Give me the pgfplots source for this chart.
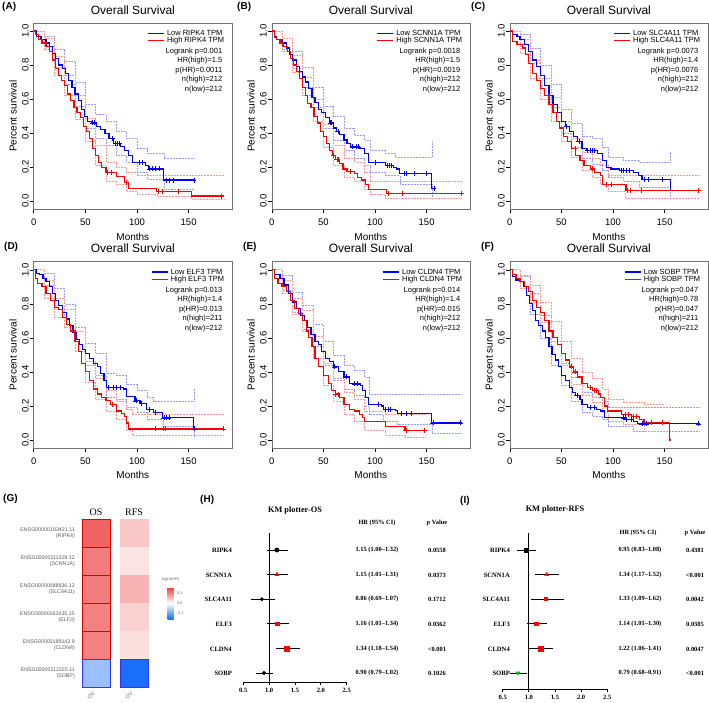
\documentclass[border=0pt]{standalone}
\usepackage{pgfplots}
\pgfplotsset{compat=1.18}
\usepackage{fontspec}
\setmainfont{Liberation Sans}
\newfontfamily\timesf{Liberation Serif}
\usetikzlibrary{calc}
\definecolor{kmblue}{RGB}{0,0,255}
\definecolor{kmred}{RGB}{255,0,0}
\pgfplotsset{
 km/.style={scale only axis, width=198.3pt, height=186.3pt, xmin=0, xmax=192, ymin=-0.047, ymax=1.047,
  xtick={0,50,100,150}, ytick={0,0.2,0.4,0.6,0.8,1.0},
  tick align=outside, tick pos=left, major tick length=4pt,
  axis line style={black!55}, tick style={black, line width=0.4pt},
  /pgf/number format/assume math mode=true,
  ticklabel style={font=\fontsize{9.5}{9.5}\selectfont},
  yticklabel style={rotate=90, anchor=base, yshift=1pt, /pgf/number format/fixed, /pgf/number format/fixed zerofill, /pgf/number format/precision=1},
  xticklabel style={anchor=base, yshift=-12.4pt},
  title={Overall Survival}, title style={font=\fontsize{12}{12}\selectfont, at={(axis description cs:0.5,1.016)}, anchor=base, yshift=0pt},
  xlabel={Months}, xlabel style={font=\fontsize{10}{10}\selectfont, at={(axis description cs:0.5,-0.165)}, anchor=base},
  ylabel={Percent survival}, ylabel style={font=\fontsize{10}{10}\selectfont, at={(axis description cs:-0.0857,0.5)}, anchor=base},
 },
 mb/.style={const plot, kmblue, line width=1.2pt, no marks},
 mr/.style={const plot, kmred, line width=1.2pt, no marks},
 cb/.style={const plot, kmblue!40, densely dotted, line width=0.5pt, no marks},
 cr/.style={const plot, kmred!40, densely dotted, line width=0.5pt, no marks},
 xb/.style={only marks, mark=+, mark size=2.5pt, kmblue, line width=0.5pt},
 xr/.style={only marks, mark=+, mark size=2.5pt, kmred, line width=0.5pt},
 forest/.style={scale only axis, xmin=0.5, xmax=2.5, axis x line*=bottom, axis y line=none, ytick=\empty,
  xtick={0.5,1,1.5,2,2.5}, tick align=outside, major tick length=3pt,
  axis line style={line width=0.9pt}, tick style={line width=0.9pt, black}, clip=false,
  /pgf/number format/assume math mode=true,
  xticklabel style={font=\timesf\bfseries\fontsize{6.5}{6.5}\selectfont, /pgf/number format/fixed, /pgf/number format/fixed zerofill, /pgf/number format/precision=1}},
 fp/.style={only marks, error bars/x dir=both, error bars/x explicit, error bars/error bar style={black, line width=0.7pt}, error bars/error mark options={black, mark size=2.5pt, line width=0.7pt}},
}
\newcommand{\kmleg}[7]{%
\begin{scope}[shift={(#1.north east)}, font=\fontsize{7.5}{8}\selectfont, inner sep=0pt]
\node[anchor=mid east] (hh) at (-7.7pt,-17pt) {High #2 TPM};
\coordinate (lowy) at (0pt,-10.3pt);
\node[anchor=mid west] (ll) at (hh.west |- lowy) {Low #2 TPM};
\draw[draw=kmblue, line width=1.2pt] ($(ll.west)+(-3pt,0pt)$) -- ++(-16pt,0pt);
\draw[draw=kmred, line width=1.2pt] ($(hh.west)+(-3pt,0pt)$) -- ++(-16pt,0pt);
\node[anchor=mid east] at (-9.6pt,-27.7pt) {Logrank p=#3};
\node[anchor=mid east] at (-9.6pt,-37pt) {HR(high)=#4};
\node[anchor=mid east] at (-9.6pt,-47pt) {p(HR)=#5};
\node[anchor=mid east] at (-9.6pt,-56.3pt) {n(high)=#6};
\node[anchor=mid east] at (-9.6pt,-66pt) {n(low)=#7};
\end{scope}}
\newcommand{\plab}[3]{\node[font=\bfseries\fontsize{10}{10}\selectfont, anchor=mid west, inner sep=0pt] at (#1pt,#2pt) {#3};}
\newcommand{\ftxt}[3]{\node[font=\timesf\bfseries\fontsize{6.4}{6.4}\selectfont, inner sep=0pt] at (#1pt,#2pt) {#3};}
\newcommand{\flab}[3]{\node[font=\timesf\bfseries\fontsize{6.6}{6.6}\selectfont, inner sep=0pt, anchor=mid east] at (#1pt,#2pt) {#3};}
\begin{document}
\begin{tikzpicture}
\path[use as bounding box] (0pt,0pt) rectangle (709pt,702pt);
% ---------------- A
\begin{axis}[km, name=A, at={(33.7pt,492.7pt)}, anchor=south west]
\addplot[cb] coordinates {(0,1) (10,0.97) (20,0.89) (30,0.82) (40,0.70) (50,0.57) (60,0.51) (70,0.47) (80,0.41) (90,0.37) (100,0.31) (110,0.28) (126,0.25) (155.5,0.25)};
\addplot[cb] coordinates {(0,1) (10,0.91) (20,0.79) (30,0.69) (40,0.56) (50,0.43) (60,0.37) (70,0.33) (80,0.27) (90,0.23) (100,0.17) (110,0.13) (126,0.07) (155.5,0.07)};
\addplot[cr] coordinates {(0,1) (10,0.96) (20,0.85) (30,0.74) (40,0.62) (50,0.49) (60,0.33) (70,0.23) (80,0.20) (90,0.17) (100,0.15) (184,0.15)};
\addplot[cr] coordinates {(0,1) (10,0.89) (20,0.74) (30,0.62) (40,0.48) (50,0.35) (60,0.21) (70,0.12) (80,0.10) (90,0.06) (100,0.04) (120,0.03) (153,0.01) (184,0.01)};
\addplot[mb] coordinates {(0,1) (3,0.97) (7,0.95) (12,0.93) (15,0.91) (18,0.87) (21,0.84) (24,0.80) (28,0.78) (31,0.75) (34,0.71) (37,0.67) (40,0.63) (43,0.59) (46,0.54) (49,0.50) (52,0.47) (56,0.46) (61,0.44) (65,0.42) (69,0.40) (73,0.37) (77,0.34) (84,0.32) (88,0.30) (92,0.27) (96,0.23) (108,0.21) (111,0.19) (126,0.125) (155.5,0.125)};
\addplot[mr] coordinates {(0,1) (2,0.98) (5,0.95) (8,0.93) (12,0.91) (15,0.88) (18,0.83) (21,0.78) (24,0.74) (27,0.71) (30,0.68) (33,0.63) (36,0.59) (39,0.55) (42,0.52) (45,0.49) (48,0.44) (51,0.41) (54,0.37) (57,0.31) (60,0.27) (63,0.23) (66,0.20) (70,0.17) (80,0.145) (88,0.11) (92,0.076) (119,0.057) (153,0.031) (184,0.031)};
\addplot[xb] coordinates {(57,0.46) (59,0.46) (76,0.37) (79,0.34) (81,0.34) (83,0.34) (102,0.23) (105,0.23) (112,0.19) (115,0.19) (118,0.19) (122,0.19) (128,0.125) (131,0.125) (135,0.125) (155,0.125)};
\addplot[xr] coordinates {(71,0.17) (75,0.17) (90,0.11) (121,0.057) (124,0.057) (140,0.057) (182,0.031)};
\end{axis}
\kmleg{A}{RIPK4}{0.001}{1.5}{0.0011}{212}{212}
% ---------------- B
\begin{axis}[km, name=B, at={(271.7pt,492.7pt)}, anchor=south west]
\addplot[cb] coordinates {(0,1) (10,0.96) (20,0.88) (30,0.79) (40,0.67) (50,0.56) (60,0.50) (70,0.43) (80,0.39) (90,0.36) (95,0.30) (110,0.28) (120,0.26) (155,0.35) (156,0.35)};
\addplot[cb] coordinates {(0,1) (10,0.89) (20,0.78) (30,0.67) (40,0.55) (50,0.43) (60,0.36) (70,0.30) (80,0.25) (90,0.21) (95,0.17) (110,0.15) (124,0.10) (155,0.02) (157.5,0.02)};
\addplot[cr] coordinates {(0,1) (10,0.96) (20,0.86) (30,0.73) (40,0.60) (50,0.45) (60,0.33) (70,0.25) (80,0.23) (90,0.17) (95,0.12) (110,0.115) (184,0.115)};
\addplot[cr] coordinates {(0,1) (10,0.88) (20,0.76) (30,0.62) (40,0.47) (50,0.32) (60,0.21) (70,0.14) (80,0.12) (90,0.07) (95,0.04) (110,0.02) (184,0.02)};
\addplot[mb] coordinates {(0,1) (3,0.97) (5,0.95) (10,0.93) (14,0.90) (17,0.86) (20,0.83) (24,0.79) (27,0.76) (30,0.73) (33,0.70) (36,0.66) (39,0.61) (42,0.58) (45,0.54) (48,0.52) (52,0.49) (56,0.46) (60,0.43) (63,0.41) (66,0.39) (70,0.36) (73,0.34) (76,0.32) (85,0.31) (90,0.28) (94,0.23) (110,0.21) (118,0.20) (121,0.19) (124,0.165) (155,0.076) (157.5,0.076)};
\addplot[mr] coordinates {(0,1) (3,0.96) (5,0.95) (8,0.93) (11,0.91) (15,0.88) (18,0.84) (21,0.80) (24,0.76) (27,0.72) (30,0.67) (33,0.62) (35,0.575) (38,0.55) (41,0.50) (44,0.46) (47,0.41) (50,0.38) (53,0.34) (56,0.30) (59,0.27) (62,0.245) (66,0.22) (69,0.19) (73,0.175) (80,0.165) (83,0.14) (87,0.125) (91,0.10) (94,0.068) (111,0.047) (184,0.047)};
\addplot[xb] coordinates {(57,0.46) (58,0.46) (64,0.41) (78,0.32) (82,0.32) (84,0.32) (100,0.23) (112,0.21) (114,0.21) (116,0.21) (128,0.165) (130,0.165) (138,0.165) (150,0.165) (157,0.076)};
\addplot[xr] coordinates {(60,0.27) (63,0.245) (64,0.245) (76,0.175) (113,0.047) (126,0.047) (184,0.047)};
\end{axis}
\kmleg{B}{SCNN1A}{0.0018}{1.5}{0.0019}{212}{212}
% ---------------- C
\begin{axis}[km, name=C, at={(509.7pt,492.7pt)}, anchor=south west]
\addplot[cb] coordinates {(0,1) (10,0.98) (20,0.90) (30,0.80) (40,0.69) (50,0.54) (60,0.46) (70,0.38) (80,0.37) (90,0.32) (95,0.26) (110,0.24) (125,0.23) (155,0.29) (156,0.29)};
\addplot[cb] coordinates {(0,1) (10,0.92) (20,0.81) (30,0.68) (40,0.55) (50,0.40) (60,0.32) (70,0.25) (80,0.22) (90,0.18) (95,0.14) (110,0.12) (125,0.08) (155,0.02) (156,0.02)};
\addplot[cr] coordinates {(0,1) (10,0.95) (20,0.83) (30,0.72) (40,0.61) (50,0.47) (60,0.37) (70,0.29) (80,0.25) (88,0.21) (95,0.15) (184,0.15)};
\addplot[cr] coordinates {(0,1) (10,0.87) (20,0.72) (30,0.60) (40,0.47) (50,0.35) (60,0.26) (70,0.18) (80,0.14) (88,0.10) (95,0.06) (112,0.02) (184,0.02)};
\addplot[mb] coordinates {(0,1) (3,0.98) (7,0.97) (10,0.95) (14,0.92) (18,0.88) (22,0.83) (26,0.79) (30,0.74) (34,0.68) (38,0.62) (42,0.57) (46,0.52) (50,0.47) (54,0.44) (58,0.41) (62,0.38) (66,0.35) (70,0.31) (74,0.30) (85,0.28) (90,0.24) (94,0.20) (98,0.19) (106,0.18) (120,0.17) (125,0.15) (128,0.13) (155.5,0.065) (156,0.065)};
\addplot[mr] coordinates {(0,1) (3,0.94) (7,0.92) (12,0.90) (15,0.86) (18,0.81) (22,0.75) (26,0.71) (30,0.66) (34,0.62) (38,0.57) (42,0.52) (45,0.47) (48,0.43) (52,0.38) (56,0.35) (60,0.31) (64,0.27) (68,0.24) (72,0.21) (78,0.19) (82,0.17) (88,0.15) (90,0.10) (112.6,0.065) (184,0.065)};
\addplot[xb] coordinates {(55,0.44) (67,0.35) (75,0.30) (78,0.30) (80,0.30) (82,0.30) (108,0.18) (110,0.18) (113,0.18) (116,0.18) (130,0.13) (134,0.13) (148,0.13)};
\addplot[xr] coordinates {(63,0.31) (80,0.19) (93,0.10) (98,0.10) (114,0.065) (117,0.065) (127,0.065) (183,0.065)};
\end{axis}
\kmleg{C}{SLC4A11}{0.0073}{1.4}{0.0076}{212}{212}
% ---------------- D
\begin{axis}[km, name=D, at={(33.7pt,254pt)}, anchor=south west]
\addplot[cb] coordinates {(0,1) (10,0.98) (20,0.89) (30,0.80) (40,0.66) (50,0.57) (60,0.51) (70,0.39) (80,0.38) (90,0.33) (100,0.29) (110,0.25) (116,0.23) (155,0.30) (156,0.30)};
\addplot[cb] coordinates {(0,1) (10,0.91) (20,0.79) (30,0.66) (40,0.52) (50,0.44) (60,0.38) (70,0.25) (80,0.24) (90,0.19) (100,0.16) (110,0.12) (125,0.08) (155,0.02) (156,0.02)};
\addplot[cr] coordinates {(0,1) (10,0.94) (20,0.83) (30,0.77) (40,0.64) (50,0.46) (60,0.36) (70,0.29) (80,0.23) (90,0.18) (95,0.15) (184,0.15)};
\addplot[cr] coordinates {(0,1) (10,0.83) (20,0.72) (30,0.66) (40,0.52) (50,0.34) (60,0.24) (70,0.17) (80,0.12) (90,0.06) (95,0.03) (184,0.03)};
\addplot[mb] coordinates {(0,1) (3,0.98) (6,0.97) (9,0.95) (12,0.93) (15,0.90) (18,0.86) (21,0.82) (24,0.79) (28,0.75) (32,0.71) (35,0.67) (38,0.63) (41,0.59) (44,0.56) (47,0.53) (50,0.51) (54,0.48) (58,0.45) (62,0.43) (65,0.39) (68,0.35) (70.6,0.31) (87,0.30) (90,0.255) (98,0.23) (103,0.216) (109,0.18) (116,0.16) (125,0.13) (155,0.065) (156,0.065)};
\addplot[mr] coordinates {(0,1) (2,0.95) (4,0.92) (8,0.90) (12,0.86) (16,0.82) (20,0.78) (24,0.765) (28,0.72) (32,0.68) (36,0.64) (40,0.58) (43,0.52) (46,0.45) (50,0.40) (54,0.35) (58,0.30) (62,0.27) (66,0.25) (70,0.23) (74,0.207) (80,0.17) (85,0.155) (88,0.14) (90,0.10) (92,0.065) (184,0.065)};
\addplot[xb] coordinates {(72,0.31) (77,0.31) (80,0.31) (84,0.31) (99,0.23) (104,0.216) (112,0.18) (118,0.16) (126,0.13) (128,0.13) (131,0.13) (155.5,0.065)};
\addplot[xr] coordinates {(76,0.207) (118,0.065) (125,0.065) (127,0.065) (184,0.065)};
\end{axis}
\kmleg{D}{ELF3}{0.013}{1.4}{0.013}{211}{212}
% ---------------- E
\begin{axis}[km, name=E, at={(271.7pt,254pt)}, anchor=south west]
\addplot[cb] coordinates {(0,1) (10,0.97) (20,0.87) (30,0.79) (40,0.68) (50,0.58) (60,0.50) (70,0.44) (80,0.41) (90,0.37) (94,0.27) (184,0.27)};
\addplot[cb] coordinates {(0,1) (10,0.88) (20,0.75) (30,0.65) (40,0.55) (50,0.44) (60,0.36) (70,0.30) (80,0.26) (90,0.20) (94,0.15) (108,0.11) (122,0.09) (155,0.04) (184,0.04)};
\addplot[cr] coordinates {(0,1) (10,0.94) (20,0.83) (30,0.76) (40,0.61) (50,0.45) (60,0.35) (70,0.28) (80,0.24) (90,0.17) (110,0.15) (149,0.15)};
\addplot[cr] coordinates {(0,1) (10,0.86) (20,0.74) (30,0.64) (40,0.48) (50,0.32) (60,0.23) (70,0.15) (80,0.11) (90,0.06) (110,0.03) (129,0.015) (149,0.015)};
\addplot[mb] coordinates {(0,1) (3,0.97) (8,0.95) (12,0.91) (16,0.86) (20,0.81) (24,0.77) (28,0.73) (32,0.70) (35,0.66) (38,0.62) (42,0.58) (45,0.56) (48,0.52) (52,0.48) (56,0.46) (60,0.43) (65,0.40) (70,0.37) (75,0.33) (86,0.32) (88,0.29) (91,0.25) (94,0.21) (106,0.20) (108,0.18) (120,0.175) (122,0.155) (155,0.10) (184,0.10)};
\addplot[mr] coordinates {(0,1) (3,0.95) (6,0.92) (10,0.90) (14,0.87) (18,0.82) (22,0.77) (26,0.745) (30,0.70) (34,0.64) (36,0.60) (39,0.55) (42,0.48) (45,0.43) (50,0.38) (55,0.33) (58,0.29) (62,0.27) (66,0.25) (70,0.21) (75,0.18) (80,0.17) (85,0.15) (88,0.13) (90,0.108) (110,0.08) (129,0.057) (149,0.057)};
\addplot[xb] coordinates {(61,0.43) (72,0.37) (80,0.33) (83,0.33) (103,0.21) (110,0.18) (113,0.18) (115,0.18) (125,0.155) (130,0.155) (135,0.155) (156,0.10) (183,0.10)};
\addplot[xr] coordinates {(62,0.27) (64,0.27) (130,0.057) (148,0.057)};
\end{axis}
\kmleg{E}{CLDN4}{0.014}{1.4}{0.015}{212}{212}
% ---------------- F
\begin{axis}[km, name=F, at={(509.7pt,254pt)}, anchor=south west]
\addplot[cb] coordinates {(0,1) (10,0.96) (20,0.86) (30,0.73) (40,0.58) (50,0.45) (60,0.37) (70,0.28) (80,0.25) (90,0.23) (95,0.19) (184,0.19)};
\addplot[cb] coordinates {(0,1) (10,0.89) (20,0.74) (30,0.60) (40,0.44) (50,0.32) (60,0.23) (70,0.16) (80,0.14) (90,0.12) (95,0.08) (120,0.05) (184,0.05)};
\addplot[cr] coordinates {(0,1) (10,0.97) (20,0.91) (30,0.81) (40,0.70) (50,0.58) (60,0.48) (70,0.40) (80,0.36) (90,0.30) (95,0.24) (110,0.22) (130,0.21) (150,0.21)};
\addplot[cr] coordinates {(0,1) (10,0.89) (20,0.81) (30,0.69) (40,0.58) (50,0.44) (60,0.33) (70,0.26) (80,0.22) (90,0.16) (95,0.11) (110,0.09) (130,0.05) (155,0.05)};
\addplot[mb] coordinates {(0,1) (3,0.96) (6,0.94) (10,0.93) (13,0.90) (16,0.85) (19,0.80) (22,0.76) (25,0.70) (28,0.67) (32,0.64) (35,0.60) (38,0.55) (41,0.50) (44,0.47) (47,0.43) (50,0.38) (54,0.35) (58,0.31) (61,0.28) (64,0.26) (68,0.24) (70,0.21) (75,0.19) (84,0.18) (88,0.17) (92,0.13) (112,0.12) (120,0.11) (124,0.095) (184,0.095)};
\addplot[mr] coordinates {(0,1) (3,0.97) (6,0.95) (10,0.93) (14,0.90) (18,0.87) (22,0.82) (26,0.78) (30,0.75) (34,0.70) (38,0.64) (42,0.60) (46,0.56) (50,0.51) (54,0.47) (58,0.43) (62,0.40) (66,0.37) (70,0.33) (75,0.31) (80,0.29) (86,0.27) (88,0.25) (92,0.20) (95,0.17) (105,0.17) (108,0.15) (118,0.14) (126,0.12) (130,0.105) (155,0) (155.5,0)};
\addplot[xb] coordinates {(65,0.26) (78,0.19) (82,0.19) (110,0.13) (113,0.12) (118,0.12) (128,0.095) (132,0.095) (183,0.095)};
\addplot[xr] coordinates {(60,0.43) (63,0.40) (78,0.31) (82,0.29) (84,0.29) (112,0.15) (115,0.15) (120,0.14) (123,0.14) (137,0.105) (148,0.105)};
\end{axis}
\kmleg{F}{SOBP}{0.047}{0.78}{0.047}{211}{212}
% panel labels
\plab{2}{695}{(A)} \plab{237}{695}{(B)} \plab{471}{695}{(C)}
\plab{4}{455}{(D)} \plab{243}{455}{(E)} \plab{481}{455}{(F)}
\plab{3}{203}{(G)} \plab{200}{202}{(H)} \plab{460}{201}{(I)}
% ---------------- G heatmap
\begin{axis}[name=G, at={(77pt,15pt)}, anchor=south west, scale only axis, width=76pt, height=168pt,
 xmin=-0.5, xmax=1.5, ymin=0.5, ymax=6.5, hide axis, clip=false,
 colormap={hm}{rgb255=(25,110,250) rgb255=(255,255,255) rgb255=(235,55,55)},
 point meta min=-0.16, point meta max=0.16,
 colorbar,
 colorbar style={at={(parent axis.east)}, anchor=west, xshift=6pt, width=6pt, height=32pt,
   ytick={-0.1,0,0.1}, yticklabels={-0.1,0.0,0.1}, yticklabel style={font=\fontsize{3.8}{3.8}\selectfont, text=black!60},
   major tick length=0pt, axis line style={draw=none},
   title={log10(HR)}, title style={font=\fontsize{3.8}{3.8}\selectfont, text=black!60, yshift=-4pt}},
]
\addplot[scatter, only marks, mark=square*, mark size=14pt, point meta=explicit, line width=0.7pt,
 scatter/use mapped color={draw=red!85!black, fill=mapped color}] coordinates {(0,6) [0.125] (0,5) [0.105] (0,4) [0.105] (0,3) [0.10] (0,2) [0.10]};
\addplot[scatter, only marks, mark=square*, mark size=14pt, point meta=explicit, line width=0.7pt,
 scatter/use mapped color={draw=blue!80, fill=mapped color}] coordinates {(0,1) [-0.07]};
\addplot[scatter, only marks, mark=square*, mark size=14pt, point meta=explicit, line width=0.3pt,
 scatter/use mapped color={draw=mapped color, fill=mapped color}] coordinates {(1,6) [0.045] (1,5) [0.022] (1,4) [0.06] (1,3) [0.037] (1,2) [0.025]};
\addplot[scatter, only marks, mark=square*, mark size=14pt, point meta=explicit, line width=0.7pt,
 scatter/use mapped color={draw=blue!80, fill=mapped color}] coordinates {(1,1) [-0.16]};
\node[font=\timesf\fontsize{10}{10}\selectfont, anchor=base] at ([yshift=3.5pt]axis cs:0,6.5) {OS};
\node[font=\timesf\fontsize{10}{10}\selectfont, anchor=base] at ([yshift=3.5pt]axis cs:1,6.5) {RFS};
\node[rotate=45, font=\fontsize{5.3}{5.3}\selectfont, text=black!60, inner sep=0pt] at ([xshift=-5pt,yshift=-8.5pt]axis cs:0,0.5) {OV};
\node[rotate=45, font=\fontsize{5.3}{5.3}\selectfont, text=black!60, inner sep=0pt] at ([xshift=-5pt,yshift=-8.5pt]axis cs:1,0.5) {OV};
\begin{scope}[every node/.style={anchor=east, align=right, font=\fontsize{5.3}{6.5}\selectfont, text=black!65, inner sep=0pt}]
\node at ([xshift=-2pt]axis cs:-0.5,6) {ENSG00000183421.11\\(RIPK4)};
\node at ([xshift=-2pt]axis cs:-0.5,5) {ENSG00000111319.12\\(SCNN1A)};
\node at ([xshift=-2pt]axis cs:-0.5,4) {ENSG00000088836.12\\(SLC4A11)};
\node at ([xshift=-2pt]axis cs:-0.5,3) {ENSG00000163435.15\\(ELF3)};
\node at ([xshift=-2pt]axis cs:-0.5,2) {ENSG00000189143.9\\(CLDN4)};
\node at ([xshift=-2pt]axis cs:-0.5,1) {ENSG00000112320.11\\(SOBP)};
\end{scope}
\end{axis}
% ---------------- H forest OS
\begin{axis}[forest, at={(243.3pt,20pt)}, anchor=south west, width=103.4pt, height=149pt, ymin=0.634, ymax=6.69]
\addplot[draw=black, line width=0.9pt, mark=none] coordinates {(1,0.634) (1,6.69)};
\addplot[fp, mark=*, mark size=2.2pt, black] coordinates {(1.15,6) += (0.17,0) -= (0.15,0)};
\addplot[fp, mark=triangle*, mark size=2.4pt, red] coordinates {(1.15,5) += (0.16,0) -= (0.14,0)};
\addplot[fp, mark=*, mark size=1.7pt, black] coordinates {(0.86,4) += (0.21,0) -= (0.17,0)};
\addplot[fp, mark=square*, mark size=1.9pt, red] coordinates {(1.16,3) += (0.18,0) -= (0.15,0)};
\addplot[fp, mark=square*, mark size=2.6pt, red] coordinates {(1.34,2) += (0.20,0) -= (0.16,0)};
\addplot[fp, mark=*, mark size=1.9pt, black] coordinates {(0.90,1) += (0.12,0) -= (0.11,0)};
\end{axis}
\node[font=\timesf\bfseries\fontsize{8.3}{8.3}\selectfont] at (295pt,191pt) {KM plotter-OS};
\ftxt{377}{179}{HR (95\% CI)} \ftxt{437}{179}{p Value}
\flab{232}{152}{RIPK4} \flab{232}{127}{SCNN1A} \flab{232}{103}{SLC4A11} \flab{232}{78}{ELF3} \flab{232}{53}{CLDN4} \flab{232}{29}{SOBP}
\ftxt{377}{152}{1.15 (1.00–1.32)} \ftxt{437}{152}{0.0558}
\ftxt{377}{127}{1.15 (1.01–1.31)} \ftxt{437}{127}{0.0373}
\ftxt{377}{103}{0.86 (0.69–1.07)} \ftxt{437}{103}{0.1712}
\ftxt{377}{78}{1.16 (1.01–1.34)} \ftxt{437}{78}{0.0362}
\ftxt{377}{53}{1.34 (1.18–1.54)} \ftxt{437}{53}{<0.001}
\ftxt{377}{29}{0.90 (0.79–1.02)} \ftxt{437}{29}{0.1026}
% ---------------- I forest RFS
\begin{axis}[forest, at={(502.7pt,13pt)}, anchor=south west, width=104.6pt, height=156pt, ymin=0.35, ymax=6.69]
\addplot[draw=black, line width=0.9pt, mark=none] coordinates {(1,0.35) (1,6.69)};
\addplot[fp, mark=square*, mark size=2pt, black] coordinates {(0.95,6) += (0.13,0) -= (0.12,0)};
\addplot[fp, mark=triangle*, mark size=2.2pt, red] coordinates {(1.34,5) += (0.18,0) -= (0.17,0)};
\addplot[fp, mark=square*, mark size=1.5pt, red] coordinates {(1.33,4) += (0.29,0) -= (0.24,0)};
\addplot[fp, mark=square*, mark size=1.6pt, red] coordinates {(1.14,3) += (0.16,0) -= (0.13,0)};
\addplot[fp, mark=square*, mark size=2.4pt, red] coordinates {(1.22,2) += (0.19,0) -= (0.16,0)};
\addplot[fp, mark=triangle*, mark options={rotate=180}, mark size=2.2pt, green!80!black] coordinates {(0.79,1) += (0.12,0) -= (0.11,0)};
\end{axis}
\node[font=\timesf\bfseries\fontsize{8.3}{8.3}\selectfont] at (555pt,192pt) {KM plotter-RFS};
\ftxt{638}{169}{HR (95\% CI)} \ftxt{695}{169}{p Value}
\flab{510}{152}{RIPK4} \flab{510}{127}{SCNN1A} \flab{510}{103}{SLC4A11} \flab{510}{78}{ELF3} \flab{510}{53}{CLDN4} \flab{510}{29}{SOBP}
\ftxt{640}{152}{0.95 (0.83–1.08)} \ftxt{695}{152}{0.4381}
\ftxt{640}{127}{1.34 (1.17–1.52)} \ftxt{695}{127}{<0.001}
\ftxt{640}{103}{1.33 (1.09–1.62)} \ftxt{695}{103}{0.0042}
\ftxt{640}{78}{1.14 (1.01–1.30)} \ftxt{695}{78}{0.0385}
\ftxt{640}{53}{1.22 (1.06–1.41)} \ftxt{695}{53}{0.0047}
\ftxt{640}{29}{0.79 (0.68–0.91)} \ftxt{695}{29}{<0.001}
\end{tikzpicture}
\end{document}
